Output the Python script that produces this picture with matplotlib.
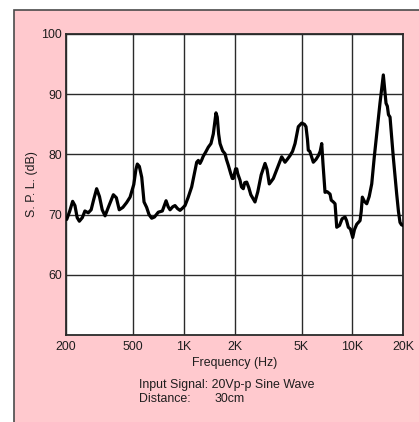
import matplotlib
matplotlib.use("Agg")
import matplotlib.pyplot as plt
from matplotlib.patches import Rectangle
from matplotlib.ticker import FixedLocator, NullLocator

plt.rcParams['font.family'] = ['Liberation Sans', 'DejaVu Sans']

# frequency response readings (Hz, dB SPL)
freq_hz = [202, 210, 219, 226, 233, 240, 250, 259, 271, 282, 292, 304, 316, 328,
           341, 360, 382, 398, 414, 435, 458, 480, 505, 520, 530, 545, 563, 581,
           602, 622, 645, 670, 706, 746, 785, 808, 829, 860, 887, 918, 950, 985,
           1017, 1060, 1114, 1160, 1193, 1220, 1248, 1275, 1305, 1350, 1398, 1450,
           1497, 1530, 1553, 1580, 1610, 1641, 1700, 1757, 1790, 1838, 1900, 1941,
           1968, 2000, 2030, 2062, 2090, 2157, 2200, 2255, 2300, 2363, 2430, 2500,
           2646, 2750, 2880, 3035, 3120, 3217, 3300, 3400, 3600, 3812, 3988, 4120,
           4271, 4420, 4574, 4700, 4783, 5010, 5200, 5313, 5420, 5483, 5600, 5872,
           6100, 6290, 6450, 6587, 6700, 6891, 7100, 7382, 7500, 7722, 7902, 8087,
           8400, 8700, 9057, 9250, 9475, 9750, 10062, 10300, 10629, 11120, 11300,
           11476, 11800, 12184, 12600, 13045, 13500, 13970, 14600, 15285, 15858,
           16150, 16400, 16750, 17520, 18350, 18800, 19200, 19600, 20020]
spl_db = [69.2, 70.5, 72.2, 71.5, 69.5, 68.9, 69.5, 70.6, 70.3, 70.8, 72.5, 74.3,
          73.0, 70.8, 69.8, 71.5, 73.3, 72.8, 70.8, 71.2, 72.0, 72.9, 75.0, 77.5,
          78.4, 78.0, 76.2, 72.1, 71.2, 70.0, 69.4, 69.6, 70.4, 70.6, 72.3, 71.3,
          70.8, 71.3, 71.5, 71.0, 70.7, 71.1, 71.5, 72.8, 74.6, 77.0, 78.7, 79.0,
          78.5, 79.0, 79.7, 80.4, 81.2, 81.8, 83.4, 85.5, 86.9, 86.2, 83.4, 81.8,
          80.6, 80.1, 79.2, 78.2, 76.8, 76.0, 76.0, 76.8, 77.6, 77.6, 76.8, 75.7,
          74.6, 74.3, 75.3, 75.4, 74.5, 73.3, 72.1, 73.8, 76.6, 78.5, 77.5, 75.1,
          75.5, 76.0, 77.8, 79.6, 78.7, 79.2, 79.8, 80.5, 81.8, 83.5, 84.6, 85.2,
          85.0, 84.6, 82.5, 80.7, 80.5, 78.7, 79.2, 79.8, 80.5, 81.8, 78.5, 73.7,
          73.8, 73.4, 72.4, 72.1, 71.8, 67.9, 68.2, 69.3, 69.6, 69.0, 67.9, 67.6,
          66.2, 67.5, 68.4, 69.0, 70.5, 72.9, 72.2, 71.8, 73.0, 75.1, 79.5, 83.4,
          88.5, 93.2, 88.5, 88.0, 86.6, 86.2, 79.5, 73.4, 70.5, 68.7, 68.3, 68.2]

x_ticks = [200, 500, 1000, 2000, 5000, 10000, 20000]
x_labels = ['200', '500', '1K', '2K', '5K', '10K', '20K']
y_ticks = [60, 70, 80, 90, 100]

FS = 8.9
TXT = '#1e1e1e'

fig = plt.figure(figsize=(4.19, 4.22), dpi=100)
fig.patch.set_facecolor('white')

# pink panel behind the chart (runs off the right and bottom edges)
panel = Rectangle((14 / 419, -0.1), 1.2, 1.1 - 10 / 422,
                  transform=fig.transFigure, facecolor='#ffc9ce',
                  edgecolor='#4a4a4a', linewidth=1.2, zorder=-5)
fig.add_artist(panel)

ax = fig.add_axes([66 / 419, 1 - 335 / 422, 337 / 419, 301 / 422])
ax.set_zorder(2)
ax.set_facecolor('white')
ax.set_xscale('log')
ax.set_xlim(200, 20000)
ax.set_ylim(50, 100)

ax.xaxis.set_major_locator(FixedLocator(x_ticks))
ax.xaxis.set_minor_locator(NullLocator())
ax.set_xticklabels(x_labels)
ax.set_yticks(y_ticks)
ax.tick_params(length=0, labelsize=FS, colors=TXT)
ax.tick_params(axis='x', pad=4)
ax.tick_params(axis='y', pad=3)

ax.grid(True, color='#2a2a2a', linewidth=1.0)
for s in ax.spines.values():
    s.set_color('#2a2a2a')
    s.set_linewidth(1.3)

ax.plot(freq_hz, spl_db, color='black', linewidth=2.3,
        solid_joinstyle='round', solid_capstyle='round', zorder=3)

ax.set_ylabel('S. P. L. (dB)', fontsize=FS, color=TXT, labelpad=2)
ax.set_xlabel('Frequency (Hz)', fontsize=FS, color=TXT, labelpad=3.5)

fig.text(139 / 419, 1 - 385 / 422, 'Input Signal: 20Vp-p Sine Wave',
         fontsize=FS, color=TXT, va='center', ha='left', zorder=5)
fig.text(139 / 419, 1 - 399 / 422, 'Distance:', fontsize=FS, color=TXT,
         va='center', ha='left', zorder=5)
fig.text(215 / 419, 1 - 399 / 422, '30cm', fontsize=FS, color=TXT,
         va='center', ha='left', zorder=5)

fig.savefig('out.png', dpi=100, facecolor='white')
